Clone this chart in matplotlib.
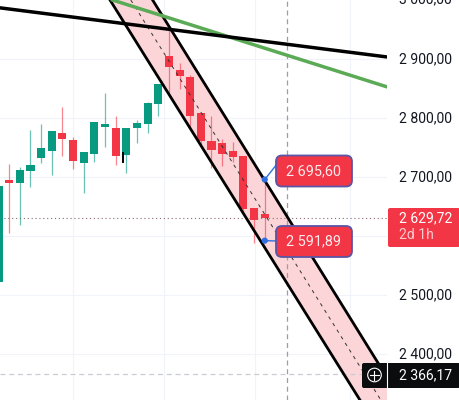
"""Candlestick chart with a falling channel and trend lines."""
import matplotlib
matplotlib.use("Agg")
import matplotlib.pyplot as plt
from matplotlib.patches import FancyBboxPatch, Polygon, Circle
from matplotlib.transforms import ScaledTranslation

plt.rcParams['font.family'] = ['Roboto', 'DejaVu Sans']

GREEN = '#089981'
RED = '#F23645'
AXIS_FONT = 10.1

# candles, oldest first
opens = [2522.0, 2694.9, 2689.8, 2710.2, 2732.2, 2744.1, 2774.6, 2762.7, 2723.7, 2739.0, 2784.7, 2783.0, 2737.3,
         2783.0, 2789.8, 2823.7, 2905.1, 2881.4, 2869.5, 2808.5, 2761.0, 2757.6, 2744.1, 2735.6, 2647.4, 2637.3]
closes = [2684.7, 2689.0, 2711.9, 2720.3, 2749.1, 2778.0, 2764.4, 2727.1, 2742.4, 2793.2, 2789.8, 2735.6, 2783.0,
          2791.5, 2825.4, 2857.6, 2886.4, 2871.2, 2803.4, 2761.0, 2745.7, 2739.0, 2733.9, 2645.7, 2627.1, 2629.72]
highs = [2684.7, 2722.0, 2716.9, 2779.7, 2789.8, 2778.0, 2818.7, 2767.8, 2742.4, 2793.2, 2842.4, 2803.4, 2783.0,
         2796.6, 2827.1, 2857.6, 2952.5, 2893.2, 2872.9, 2808.5, 2803.4, 2764.4, 2759.3, 2735.6, 2647.4, 2695.6]
lows = [2522.0, 2605.1, 2618.6, 2683.0, 2723.7, 2703.4, 2735.6, 2713.5, 2672.9, 2725.4, 2750.8, 2720.3, 2706.7,
        2757.6, 2774.6, 2803.4, 2842.4, 2849.1, 2784.7, 2752.5, 2715.2, 2718.6, 2725.4, 2639.0, 2588.1, 2591.89]

# drawn lines, (candle index, price)
channel_low = [(10.47, 3000.0), (33.94, 2321.7)]
channel_mid = [(12.42, 3000.0), (35.90, 2321.7)]
channel_up = [(14.47, 3000.0), (37.80, 2321.7)]
black_line = [(0.14, 2986.7), (36.48, 2903.4)]
green_line = [(10.7, 3000.0), (36.48, 2852.7)]

price_ticks = [2900, 2800, 2700, 2500, 2400]
price_labels = ['2 900,00', '2 800,00', '2 700,00', '2 500,00', '2 400,00']
grid_prices = [2900, 2800, 2700, 2600, 2500, 2400]
grid_candles = [7.0, 15.5, 24.1, 33.0]

last_price = 2629.72
cursor_price = 2366.17
cursor_candle = 27.1
tagged_candle = 25

fig = plt.figure(figsize=(4.6, 4.0), dpi=100)
ax = fig.add_axes([0, 0, 387 / 460, 1])
ax.set_xlim(0.14, 36.48)
ax.set_ylim(2321.7, 3000)
for s in ax.spines.values():
    s.set_visible(False)
ax.set_xticks([])
ax.yaxis.tick_right()
ax.set_yticks(price_ticks)
ax.set_yticklabels(price_labels, fontsize=AXIS_FONT, color='#131722')
ax.tick_params(axis='y', length=0, pad=8.6)
# labels sit a pixel above their grid lines
nudge = ScaledTranslation(0, 1 / 100, fig.dpi_scale_trans)
for lab in ax.get_yticklabels():
    lab.set_transform(lab.get_transform() + nudge)

for p in grid_prices:
    ax.axhline(p, color='#F0F3FA', lw=0.8, zorder=0)
for c in grid_candles:
    ax.axvline(c, color='#F0F3FA', lw=0.8, zorder=0)

# top label runs off the picture, same as the source
ax.text(399 / 387, 3001.7, '3 000,00', transform=ax.get_yaxis_transform(), fontsize=AXIS_FONT, color='#131722',
        ha='left', va='center', clip_on=False)

# channel
ax.add_patch(Polygon([channel_low[0], channel_up[0], channel_up[1], channel_low[1]],
                     closed=True, facecolor='#FBD5D8', edgecolor='none', zorder=1))

# crosshair and last price line
ax.axvline(cursor_candle, color='#9A9EA8', lw=0.9, ls=(0, (4, 3)), zorder=2)
ax.axhline(cursor_price, color='#C9CCD2', lw=0.9, ls=(0, (4, 3)), zorder=2)
ax.axhline(last_price, color='#8a6a70', lw=0.8, ls=(0, (1, 2.5)), zorder=2)

ax.plot(*zip(*channel_mid), color='#333333', lw=0.7, ls=(0, (3.5, 4.5)), zorder=4)

# candles
for i in range(len(opens)):
    col = GREEN if closes[i] >= opens[i] else RED
    ax.plot([i, i], [lows[i], highs[i]], color=col, lw=0.9, alpha=0.6, zorder=3, solid_capstyle='butt')
    ax.bar(i, abs(closes[i] - opens[i]), bottom=min(opens[i], closes[i]), width=0.76, color=col, zorder=3.5)

ax.plot(*zip(*channel_low), color='black', lw=2.0, zorder=5)
ax.plot(*zip(*channel_up), color='black', lw=2.0, zorder=5)
ax.plot(*zip(*green_line), color='#5BAA55', lw=2.5, zorder=5)
ax.plot(*zip(*black_line), color='black', lw=2.5, zorder=6)

# overlay in pixels for the labels
ov = fig.add_axes([0, 0, 1, 1])
ov.set_xlim(0, 460)
ov.set_ylim(400, 0)
ov.axis('off')
ov.patch.set_alpha(0)

# small pointer stub next to candle
ov.plot([123.5, 123.5], [153, 162], color='black', lw=1.4)

top_pt = ax.transData.transform((tagged_candle, highs[tagged_candle]))
low_pt = ax.transData.transform((tagged_candle, lows[tagged_candle]))
for pt, box_y, link_y, txt in [(top_pt, 155.5, 164, '2 695,60'), (low_pt, 226, 241, '2 591,89')]:
    px, py = pt[0], 400 - pt[1]
    ov.plot([px, 277], [py, link_y], color='#2F6FE0', lw=1.0, zorder=7)
    ov.add_patch(Circle((px, py), 2.4, color='#2F6FE0', zorder=8))
    ov.add_patch(FancyBboxPatch((280, box_y + 4), 68, 23, boxstyle='round,pad=4,rounding_size=6',
                                facecolor=RED, edgecolor='#5A55A5', lw=1.3, zorder=9))
    ov.text(314, box_y + 15.5, txt, color='#FFE9EB', fontsize=10.4, ha='center', va='center', zorder=10)

# last price tag
ov.add_patch(FancyBboxPatch((390, 210), 68, 35, boxstyle='round,pad=2,rounding_size=2',
                            facecolor=RED, edgecolor='none', zorder=9))
ov.text(399, 218.5, '2 629,72', color='white', fontsize=AXIS_FONT, ha='left', va='center', zorder=10)
ov.text(399, 235, '2d 1h', color='#FBC9CE', fontsize=AXIS_FONT, ha='left', va='center', zorder=10)

# cursor tag
ov.add_patch(FancyBboxPatch((364, 365), 94, 21, boxstyle='round,pad=2,rounding_size=2',
                            facecolor='#0B0C0E', edgecolor='none', zorder=9))
ov.plot([387.5, 387.5], [362, 389], color='white', lw=0.8, zorder=10)
ov.add_patch(Circle((374.5, 375), 6.8, facecolor='none', edgecolor='white', lw=0.8, zorder=10))
ov.plot([370, 379], [375, 375], color='white', lw=0.8, zorder=10)
ov.plot([374.5, 374.5], [370.5, 379.5], color='white', lw=0.8, zorder=10)
ov.text(399, 375, '2 366,17', color='white', fontsize=AXIS_FONT, ha='left', va='center', zorder=10)

fig.savefig('out.png', dpi=100)
